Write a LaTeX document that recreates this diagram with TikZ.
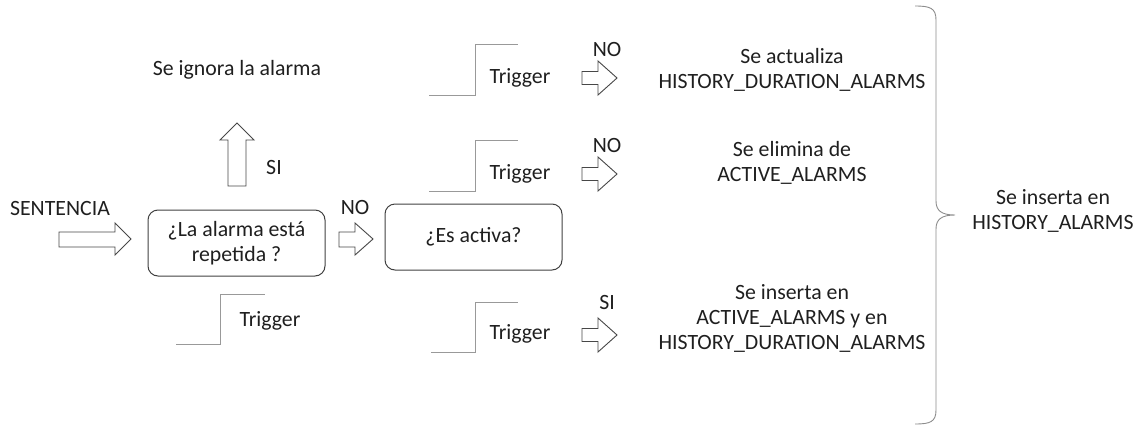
\documentclass[tikz,border=0pt]{standalone}
\usepackage{fontspec}
\setmainfont{Carlito}
\begin{document}
\begin{tikzpicture}[x=1pt,y=-1pt,
  every node/.style={text=black!88, font=\fontsize{21.8}{25}\selectfont, inner sep=0pt, align=center},
  decision/.style={draw=black!75, line width=1pt, rounded corners=10pt, minimum width=177pt, minimum height=66pt},
  blockarrow/.style={draw=black!72, line width=0.9pt, fill=white, line join=miter},
  steptrace/.style={draw=black!40, line width=1pt},
  bracepath/.style={draw=black!45, line width=0.9pt}]
\useasboundingbox (0,0) rectangle (1140,426);

% input
\node (sent) at (60,208) {SENTENCIA};
\draw[blockarrow] (59,232)--(115,232)--(115,223)--(131,239)--(115,255)--(115,247)--(59,247)--cycle;

% first decision
\node[decision] (rep) at (236.5,243) {¿La alarma está\\repetida ?};
\draw[blockarrow] (228,186)--(228,140)--(220,140)--(237,123)--(254,140)--(246,140)--(246,186)--cycle;
\node (si1) at (274,167) {SI};
\node (ign) at (237,70) {Se ignora la alarma};

\node (no1) at (355,207) {NO};
\draw[blockarrow] (339,232)--(355,232)--(355,223)--(373,239)--(355,255)--(355,247)--(339,247)--cycle;

% trigger under the first decision
\draw[steptrace] (176,344)--(220,344)--(220,294)--(265,294);
\node (trg0) at (270,321) {Trigger};

% second decision
\node[decision] (act) at (473.5,237) {¿Es activa?};

% three trigger branches
\draw[steptrace] (429,95)--(475,95)--(475,44)--(518,44);
\node (trg1) at (520,78) {Trigger};
\node (no2) at (607,49) {NO};
\draw[blockarrow] (582,71.5)--(598,71.5)--(598,61)--(617,78)--(598,95)--(598,84.5)--(582,84.5)--cycle;

\draw[steptrace] (429,191)--(475,191)--(475,140)--(518,140);
\node (trg2) at (520,174) {Trigger};
\node (no3) at (607,145) {NO};
\draw[blockarrow] (582,167.5)--(598,167.5)--(598,157)--(617,174)--(598,191)--(598,180.5)--(582,180.5)--cycle;

\draw[steptrace] (431,352)--(475,352)--(475,302)--(518,302);
\node (trg3) at (520,334) {Trigger};
\node (si2) at (607,302) {SI};
\draw[blockarrow] (582,328.5)--(598,328.5)--(598,318)--(617,335)--(598,352)--(598,341.5)--(582,341.5)--cycle;

% outcomes
\node (upd) at (792,70) {Se actualiza\\HISTORY\_DURATION\_ALARMS};
\node (del) at (792,163) {Se elimina de\\ACTIVE\_ALARMS};
\node (ins) at (792,318) {Se inserta en\\ACTIVE\_ALARMS y en\\HISTORY\_DURATION\_ALARMS};

% brace and common result
\draw[bracepath] (915,6) .. controls (930,6) and (936,8) .. (936,20) -- (936,201)
  .. controls (936,211) and (942,215) .. (955,215)
  .. controls (942,215) and (936,219) .. (936,229) -- (936,410)
  .. controls (936,422) and (930,424) .. (915,424);
\node (hist) at (1053,211) {Se inserta en\\HISTORY\_ALARMS};
\end{tikzpicture}
\end{document}
